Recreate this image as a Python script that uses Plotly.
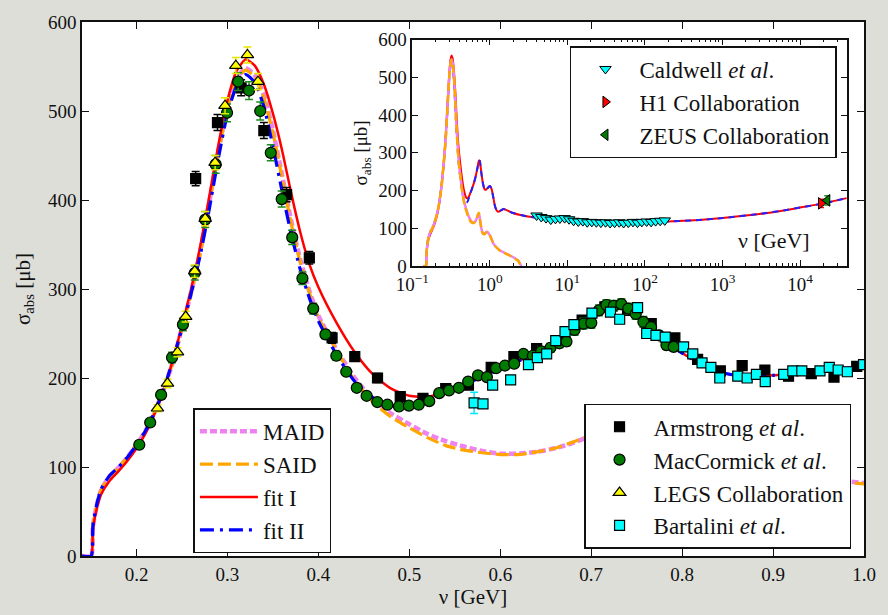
import plotly.graph_objects as go

# ---------------- model curves, resonance region (nu in GeV, sigma in microbarn)
NU_MODEL = [0.140, 0.150, 0.152, 0.156, 0.161, 0.170,
            0.18, 0.19, 0.20, 0.21, 0.22, 0.23, 0.24, 0.25, 0.26, 0.27, 0.28, 0.29,
            0.30, 0.31, 0.32, 0.33, 0.34, 0.35, 0.36, 0.37, 0.38, 0.39, 0.40,
            0.42, 0.44, 0.46, 0.48, 0.50, 0.52, 0.54, 0.56, 0.58, 0.60,
            0.62, 0.64, 0.66, 0.68, 0.70, 0.72, 0.74, 0.76, 0.78, 0.80,
            0.82, 0.84, 0.86, 0.88, 0.90, 0.92, 0.94, 0.96, 0.98, 1.00]
FIT_I = [0, 0, 30, 52, 69, 84,
         95, 107, 121, 138, 160, 187, 221, 259, 300, 348, 404, 462,
         512, 545, 558, 551, 530, 497, 456, 408, 364, 328, 302,
         262, 229, 204, 188, 180, 179, 185, 194, 202, 210,
         219, 229, 240, 253, 266, 279, 279, 263, 244, 228,
         216, 207, 203, 202, 203, 205, 207, 209, 211, 212]
FIT_II = [0, 0, 34, 57, 75, 90,
          100, 111, 125, 141, 162, 188, 220, 256, 295, 338, 390, 447,
          497, 528, 541, 532, 505, 460, 410, 362, 322, 290, 264,
          226, 196, 178, 169, 168, 172, 183, 193, 201, 210,
          219, 229, 239, 252, 265, 279, 279, 263, 243, 228,
          216, 207, 203, 202, 203, 205, 207, 209, 211, 212]
MAID = [0, 0, 33, 56, 74, 89,
        99, 111, 125, 141, 162, 188, 218, 257, 296, 342, 398, 455,
        505, 537, 548, 540, 518, 478, 428, 377, 333, 298, 270,
        232, 200, 176, 160, 148, 137, 129, 123, 118, 115,
        115, 117, 121, 127, 135, 140, 128, 112, 98, 90,
        86, 85, 86, 88, 90, 91, 90, 87, 84, 82]
SAID = [0, 0, 33, 56, 74, 89,
        99, 111, 125, 141, 162, 188, 218, 256, 295, 340, 396, 453,
        503, 535, 546, 538, 515, 475, 425, 374, 330, 296, 268,
        231, 197, 173, 156, 144, 133, 124, 119, 116, 114,
        114, 117, 121, 128, 136, 141, 128, 111, 97, 89,
        85, 84, 85, 87, 89, 90, 89, 86, 83, 81]

# ---------------- continuation of the curves to high energies (inset)
NU_HIGH = [1.05, 1.10, 1.16, 1.22, 1.28, 1.40, 1.50, 1.70, 1.90, 2.5, 3.1,
           5.0, 7.0, 10.0, 20.0, 50.0, 100.0, 200.0, 500.0, 1000.0, 3000.0,
           6400.0, 10000.0, 20000.0, 40000.0]
FIT_HIGH = [205, 185, 160, 148, 144, 148, 151, 147, 142, 135, 131,
            126, 123, 121, 119, 117, 117, 118, 122, 127, 138,
            148, 155, 166, 180]
NU_RES_HIGH = [1.06, 1.12, 1.36, 1.82, 2.31, 2.45, 2.55]
MAID_HIGH = [70, 58, 41, 28, 15, 6, 0]
SAID_HIGH = [69, 57, 40, 27, 14, 5, 0]

# ---------------- data sets
ARM_NU = [0.265, 0.289, 0.315, 0.340, 0.365, 0.390, 0.415, 0.440, 0.465, 0.490,
          0.515, 0.540, 0.565, 0.590, 0.615, 0.640, 0.665, 0.690, 0.715, 0.740,
          0.766, 0.792, 0.817, 0.842, 0.866, 0.891, 0.917, 0.942, 0.967, 0.992]
ARM_SIG = [424, 487, 526, 478, 406, 335, 245, 224, 200, 179,
           177, 188, 192, 212, 224, 233, 242, 265, 280, 276,
           261, 245, 221, 208, 214, 209, 202, 205, 201, 213]
ARM_ERR = [8, 9, 9, 9, 8, 7, 6, 5, 5, 4,
           4, 4, 4, 4, 4, 4, 4, 5, 5, 5,
           5, 4, 4, 4, 4, 4, 4, 4, 4, 4]

MAC_NU = [0.203, 0.215, 0.227, 0.239, 0.251, 0.264, 0.2755, 0.287, 0.2995, 0.3117,
          0.3237, 0.336, 0.3476, 0.3596, 0.3712, 0.3824, 0.3943, 0.4077, 0.4197, 0.4306,
          0.4422, 0.453, 0.4647, 0.4759, 0.4886, 0.4995, 0.5103, 0.5219, 0.5328, 0.5436,
          0.5545, 0.5647, 0.5755, 0.5853, 0.5954, 0.6052, 0.6153, 0.6255, 0.6358, 0.645,
          0.6552, 0.665, 0.6728, 0.6817, 0.6914, 0.7001, 0.7085, 0.7167, 0.7248, 0.7332,
          0.7408, 0.749, 0.7574, 0.7659, 0.7743, 0.7827, 0.7907]
MAC_SIG = [125, 150, 181, 223, 260, 318, 378, 440, 498, 533,
           523, 500, 453, 401, 358, 312, 278, 249, 225, 207,
           189, 180, 173, 170, 168, 169, 170, 174, 183, 186,
           189, 196, 203, 201, 211, 214, 216, 227, 225, 230,
           234, 239, 241, 254, 261, 262, 276, 282, 281, 283,
           278, 272, 263, 257, 248, 237, 235]
MAC_ERR = [4, 4, 5, 6, 7, 8, 9, 10, 10, 10,
           10, 10, 9, 9, 8, 7, 6, 5, 5, 4,
           4, 3, 3, 3, 3, 3, 3, 3, 3, 3,
           3, 3, 3, 3, 4, 4, 4, 4, 4, 5,
           5, 5, 5, 6, 6, 6, 6, 6, 6, 6,
           6, 6, 6, 5, 5, 5, 5]

LEGS_NU = [0.223, 0.234, 0.245, 0.254, 0.264, 0.2755, 0.2864, 0.2973, 0.3092, 0.3219, 0.3335]
LEGS_SIG = [166, 194, 229, 269, 320, 379, 442, 506, 551, 563, 533]
LEGS_ERR = [4, 5, 5, 6, 7, 8, 8, 9, 9, 9, 9]

BAR_NU = [0.5712, 0.581, 0.5916, 0.6114, 0.631, 0.6408, 0.651, 0.661, 0.6712, 0.681,
          0.7008, 0.7212, 0.7313, 0.751, 0.761, 0.7712, 0.7814, 0.8016, 0.8117, 0.8219,
          0.8316, 0.8414, 0.8612, 0.8715, 0.8817, 0.8914, 0.9117, 0.9217, 0.9316, 0.9516,
          0.9618, 0.9716, 0.9817, 0.9995]
BAR_SIG = [172, 171, 192, 198, 215, 223, 227, 242, 252, 260,
           273, 274, 266, 279, 250, 248, 246, 235, 227, 217,
           212, 200, 202, 200, 204, 196, 204, 208, 208, 208,
           212, 209, 207, 215]
BAR_ERR = [12, 4, 4, 4, 4, 4, 4, 4, 4, 4,
           4, 4, 4, 4, 5, 4, 4, 4, 4, 4,
           4, 4, 4, 4, 4, 4, 4, 4, 4, 4,
           4, 4, 4, 4]

CALD_NU = [4.0, 4.6, 5.3, 6.1, 7.0, 8.0, 9.2, 10.5, 12.0, 13.8, 15.8, 18.0, 20.6, 23.6,
           27.0, 31.0, 35.5, 40.6, 46.5, 53.0, 61.0, 70.0, 80.0, 91.0, 105.0, 120.0,
           137.0, 157.0, 180.0]
CALD_SIG = [134, 130, 127, 123, 125, 126, 127, 124, 120, 118, 119, 116, 117, 116,
            115, 116, 114, 115, 116, 114, 115, 117, 115, 117, 118, 117,
            119, 120, 121]
CALD_ERR = [4] * len(CALD_NU)

H1_NU = [18600.0]
H1_SIG = [166]
H1_ERR = [11]
ZEUS_NU = [22400.0]
ZEUS_SIG = [174]
ZEUS_ERR = [12]

SERIF = "Times New Roman, Liberation Serif, DejaVu Serif, serif"
INK = "#111111"

fig = go.Figure()

# ---- main panel: model curves
curve_styles = [
    ("MAID", MAID, dict(color="#EE82EE", width=4.5, dash="7px,3px")),
    ("SAID", SAID, dict(color="#FFA500", width=3.2, dash="13px,5px")),
    ("fit I", FIT_I, dict(color="#FF0000", width=2.5)),
    ("fit II", FIT_II, dict(color="#0000FF", width=3.2, dash="14px,6px,3px,6px")),
]
for name, ys, ln in curve_styles:
    fig.add_trace(go.Scatter(
        x=NU_MODEL, y=ys, mode="lines", name=name, line=dict(shape="spline", smoothing=0.6, **ln),
        legend="legend", legendgroup=name, xaxis="x", yaxis="y"))

# ---- main panel: measurements
data_sets = [
    ("Armstrong <i>et al</i>.", ARM_NU, ARM_SIG, ARM_ERR, "square", "#000000", "#000000", 10),
    ("MacCormick <i>et al</i>.", MAC_NU, MAC_SIG, MAC_ERR, "circle", "#007A00", "#1E8C1E", 11),
    ("LEGS Collaboration", LEGS_NU, LEGS_SIG, LEGS_ERR, "triangle-up", "#FFFF00", "#E6E600", 11),
    ("Bartalini <i>et al</i>.", BAR_NU, BAR_SIG, BAR_ERR, "square", "#00FFFF", "#00E5FF", 10),
]
for name, xs, ys, es, sym, col, ecol, sz in data_sets:
    fig.add_trace(go.Scatter(
        x=xs, y=ys, mode="markers", name=name,
        marker=dict(symbol=sym, size=sz, color=col, line=dict(color="#000000", width=1.2)),
        error_y=dict(type="data", array=es, color=ecol, thickness=1.5, width=4),
        legend="legend2", legendgroup=name, xaxis="x", yaxis="y"))

# ---- inset: full energy range
inset_curves = [
    (NU_MODEL + NU_HIGH, FIT_I + FIT_HIGH, dict(color="#FF0000", width=2)),
    (NU_MODEL + NU_HIGH, FIT_II + FIT_HIGH, dict(color="#2222FF", width=2, dash="6px,5px")),
    (NU_MODEL + NU_RES_HIGH, MAID + MAID_HIGH, dict(color="#EE82EE", width=2.5)),
    (NU_MODEL + NU_RES_HIGH, SAID + SAID_HIGH, dict(color="#FFA500", width=2.5, dash="8px,4px")),
]
for xs, ys, ln in inset_curves:
    fig.add_trace(go.Scatter(x=xs, y=ys, mode="lines", line=dict(shape="spline", smoothing=0.5, **ln),
                             showlegend=False, xaxis="x2", yaxis="y2"))

inset_data = [
    ("Caldwell <i>et al</i>.", CALD_NU, CALD_SIG, CALD_ERR, "triangle-down", "#00FFFF", "#00E5FF"),
    ("H1 Collaboration", H1_NU, H1_SIG, H1_ERR, "triangle-right", "#FF0000", "#FF0000"),
    ("ZEUS Collaboration", ZEUS_NU, ZEUS_SIG, ZEUS_ERR, "triangle-left", "#007A00", "#1E8C1E"),
]
for name, xs, ys, es, sym, col, ecol in inset_data:
    fig.add_trace(go.Scatter(
        x=xs, y=ys, mode="markers", name=name,
        marker=dict(symbol=sym, size=10, color=col, line=dict(color="#000000", width=1)),
        error_y=dict(type="data", array=es, color=ecol, thickness=1.5, width=3),
        legend="legend3", legendgroup=name, xaxis="x2", yaxis="y2"))

axis_common = dict(showline=True, linecolor=INK, linewidth=1.5, mirror="ticks",
                   ticks="inside", tickcolor=INK, showgrid=False, zeroline=False,
                   tickfont=dict(family=SERIF, size=19, color=INK))

log_minor = [m * 10.0 ** p for p in range(-1, 5) for m in range(2, 10)]
decades = [0.1, 1, 10, 100, 1000, 10000]
decade_text = ["10<sup>\u22121</sup>", "10<sup>0</sup>", "10<sup>1</sup>",
               "10<sup>2</sup>", "10<sup>3</sup>", "10<sup>4</sup>"]

legend_common = dict(bgcolor="#FFFFFF", bordercolor=INK, borderwidth=1.5,
                     font=dict(family=SERIF, size=23, color=INK),
                     tracegroupgap=0, itemwidth=58)

fig.update_layout(
    width=888, height=615,
    margin=dict(l=82, r=13, t=18, b=51),
    paper_bgcolor="#DEDED9", plot_bgcolor="#FFFFFF",
    font=dict(family=SERIF, color=INK),
    xaxis=dict(range=[0.14, 1.0], tickvals=[0.2, 0.3, 0.4, 0.5, 0.6, 0.7, 0.8, 0.9, 1.0],
               ticktext=["0.2", "0.3", "0.4", "0.5", "0.6", "0.7", "0.8", "0.9", "1.0"],
               ticklen=7, title=dict(text="\u03bd [GeV]", font=dict(family=SERIF, size=21), standoff=4),
               domain=[0, 1], anchor="y", **axis_common),
    yaxis=dict(range=[0, 600], tickvals=[0, 100, 200, 300, 400, 500, 600], ticklen=7,
               title=dict(text="\u03c3<sub>abs</sub> [\u03bcb]", font=dict(family=SERIF, size=21), standoff=12),
               domain=[0, 1], anchor="x", **axis_common),
    xaxis2=dict(type="log", range=[-1, 4.602], tickvals=decades, ticktext=decade_text, ticklen=6,
                minor=dict(tickvals=log_minor, ticks="inside", ticklen=3, tickcolor=INK, showgrid=False),
                domain=[0.4224, 0.978], anchor="y2", **axis_common),
    yaxis2=dict(range=[0, 600], tickvals=[0, 100, 200, 300, 400, 500, 600], ticklen=6,
                title=dict(text="\u03c3<sub>abs</sub> [\u03bcb]", font=dict(family=SERIF, size=19), standoff=6),
                domain=[0.543, 0.967], anchor="x2", **axis_common),
    legend=dict(x=0.1425, y=0.2766, xanchor="left", yanchor="top", **legend_common),
    legend2=dict(x=0.642, y=0.285, xanchor="left", yanchor="top", **legend_common),
    legend3=dict(x=0.624, y=0.955, xanchor="left", yanchor="top", **legend_common),
    annotations=[dict(text="\u03bd [GeV]", xref="paper", yref="paper", x=0.933, y=0.59,
                      xanchor="right", yanchor="middle", showarrow=False,
                      font=dict(family=SERIF, size=22, color=INK))],
)

fig.write_html("out.html")
